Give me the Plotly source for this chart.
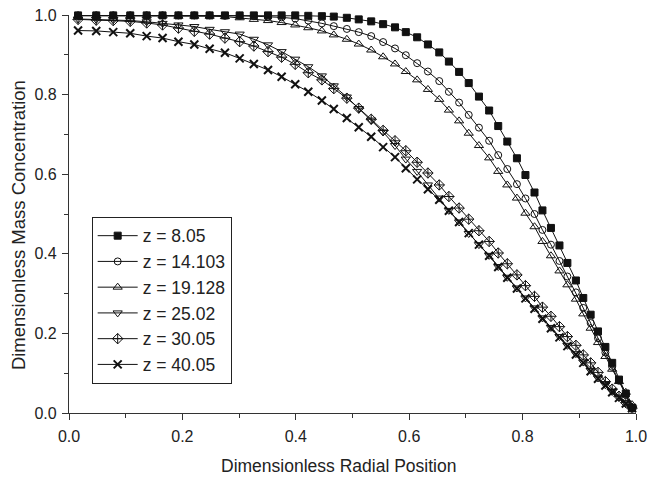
import plotly.graph_objects as go

r = [0.016, 0.048, 0.078, 0.108, 0.137, 0.165, 0.193, 0.221, 0.248, 0.275,
     0.301, 0.326, 0.351, 0.375, 0.399, 0.422, 0.446, 0.467, 0.490, 0.511,
     0.533, 0.554, 0.575, 0.594, 0.614, 0.633, 0.653, 0.670, 0.688, 0.705,
     0.723, 0.741, 0.757, 0.773, 0.790, 0.805, 0.821, 0.835, 0.850, 0.865,
     0.879, 0.894, 0.907, 0.920, 0.933, 0.946, 0.958, 0.970, 0.982, 0.993]

c_8_05 = [0.999, 0.999, 0.999, 0.999, 0.999, 0.999, 0.999, 0.999, 0.999, 0.999,
          0.999, 0.999, 0.999, 0.999, 0.999, 0.998, 0.997, 0.996, 0.993, 0.989,
          0.984, 0.977, 0.969, 0.957, 0.944, 0.926, 0.906, 0.883, 0.857, 0.829,
          0.795, 0.760, 0.721, 0.682, 0.640, 0.598, 0.554, 0.509, 0.465, 0.421,
          0.377, 0.333, 0.289, 0.247, 0.205, 0.166, 0.126, 0.084, 0.049, 0.013]

c_14_103 = [0.999, 0.999, 0.999, 0.999, 0.999, 0.999, 0.999, 0.999, 0.999, 0.998,
            0.998, 0.997, 0.996, 0.994, 0.991, 0.986, 0.979, 0.972, 0.965, 0.957,
            0.947, 0.932, 0.916, 0.899, 0.879, 0.858, 0.834, 0.807, 0.780, 0.749,
            0.717, 0.684, 0.648, 0.613, 0.575, 0.539, 0.500, 0.460, 0.423, 0.382,
            0.343, 0.303, 0.264, 0.226, 0.188, 0.152, 0.116, 0.081, 0.046, 0.013]

c_19_128 = [0.998, 0.998, 0.998, 0.998, 0.998, 0.998, 0.997, 0.997, 0.997, 0.996,
            0.993, 0.989, 0.986, 0.981, 0.975, 0.968, 0.960, 0.950, 0.939, 0.927,
            0.912, 0.895, 0.877, 0.858, 0.837, 0.813, 0.788, 0.761, 0.734, 0.703,
            0.672, 0.641, 0.607, 0.573, 0.540, 0.502, 0.468, 0.431, 0.395, 0.357,
            0.322, 0.286, 0.249, 0.213, 0.177, 0.142, 0.110, 0.079, 0.052, 0.021]

c_25_02 = [0.990, 0.989, 0.988, 0.986, 0.983, 0.979, 0.975, 0.971, 0.964, 0.958,
           0.952, 0.939, 0.925, 0.908, 0.889, 0.870, 0.847, 0.822, 0.794, 0.765,
           0.736, 0.706, 0.672, 0.638, 0.607, 0.573, 0.540, 0.509, 0.480, 0.451,
           0.423, 0.396, 0.368, 0.341, 0.314, 0.289, 0.264, 0.239, 0.215, 0.192,
           0.170, 0.149, 0.128, 0.107, 0.088, 0.071, 0.054, 0.040, 0.026, 0.013]

c_30_05 = [0.989, 0.987, 0.986, 0.984, 0.980, 0.975, 0.967, 0.959, 0.952, 0.942,
           0.933, 0.922, 0.908, 0.894, 0.876, 0.855, 0.837, 0.815, 0.791, 0.766,
           0.738, 0.710, 0.684, 0.659, 0.630, 0.603, 0.573, 0.544, 0.515, 0.487,
           0.458, 0.431, 0.402, 0.375, 0.347, 0.320, 0.293, 0.266, 0.243, 0.217,
           0.192, 0.170, 0.146, 0.126, 0.102, 0.079, 0.060, 0.042, 0.026, 0.012]

c_40_05 = [0.961, 0.960, 0.957, 0.954, 0.947, 0.942, 0.933, 0.926, 0.915, 0.905,
           0.891, 0.877, 0.862, 0.845, 0.826, 0.807, 0.785, 0.764, 0.741, 0.718,
           0.694, 0.668, 0.643, 0.615, 0.587, 0.562, 0.536, 0.508, 0.480, 0.452,
           0.423, 0.395, 0.367, 0.340, 0.313, 0.288, 0.262, 0.237, 0.213, 0.190,
           0.168, 0.147, 0.126, 0.105, 0.086, 0.069, 0.052, 0.038, 0.024, 0.012]

names = ["z = 8.05", "z = 14.103", "z = 19.128", "z = 25.02", "z = 30.05", "z = 40.05"]
series = [c_8_05, c_14_103, c_19_128, c_25_02, c_30_05, c_40_05]
symbols = ["square", "circle-open", "triangle-up-open", "triangle-down-open",
           "diamond-cross-open", "x-thin-open"]
sizes = [7, 7, 8, 8, 8, 8]
mline = [1, 1, 1, 1, 1, 2]

x_title = "Dimensionless Radial Position"
y_title = "Dimensionless Mass Concentration"

FONT = "Liberation Sans, Arial, sans-serif"
INK = "#222222"

fig = go.Figure()
for name, ys, sym, sz, lw in zip(names, series, symbols, sizes, mline):
    fig.add_trace(go.Scatter(
        x=r, y=ys, name=name, mode="lines+markers",
        line=dict(color="#111111", width=1),
        marker=dict(symbol=sym, size=sz, color="#111111",
                    line=dict(color="#111111", width=lw)),
        cliponaxis=False,
    ))

axis_common = dict(
    showline=True, linecolor="#333333", linewidth=1.3,
    ticks="outside", ticklen=6, tickwidth=1.3, tickcolor="#333333",
    showgrid=False, zeroline=False, mirror=False, automargin=False,
    tickformat=".1f", dtick=0.2, tick0=0,
    tickfont=dict(family=FONT, size=16, color=INK),
    minor=dict(ticks="outside", ticklen=4, tickwidth=1.3, tickcolor="#333333", dtick=0.1),
)

fig.update_layout(
    width=648, height=477,
    margin=dict(l=69, r=12, t=15, b=64),
    paper_bgcolor="white", plot_bgcolor="white",
    font=dict(family=FONT, color=INK),
    xaxis=dict(range=[0, 1], ticklabelstandoff=3, **axis_common),
    yaxis=dict(range=[0, 1], ticklabelstandoff=2, **axis_common),
    legend=dict(x=0.04, y=0.493, xanchor="left", yanchor="top",
                bgcolor="white", bordercolor="#222222", borderwidth=1,
                font=dict(family=FONT, size=17.5, color=INK),
                itemwidth=40, tracegroupgap=0),
    showlegend=True,
    annotations=[
        dict(text=x_title, xref="paper", yref="paper", x=0.476, y=-0.132,
             xanchor="center", yanchor="middle", showarrow=False,
             font=dict(family=FONT, size=17.5, color=INK)),
        dict(text=y_title, xref="paper", yref="paper", x=-0.09, y=0.472,
             xanchor="center", yanchor="middle", showarrow=False, textangle=-90,
             font=dict(family=FONT, size=18.5, color=INK)),
    ],
)

fig.write_html("out.html")
